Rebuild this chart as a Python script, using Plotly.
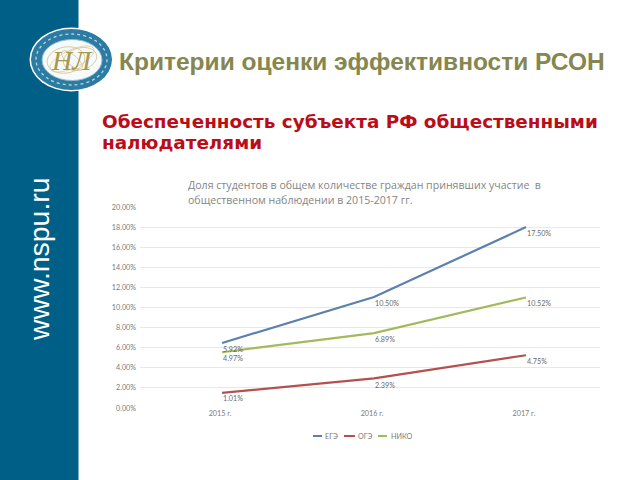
import math
import plotly.graph_objects as go

W, H = 640, 480
categories = ["2015 г.", "2016 г.", "2017 г."]
series_names = ["ЕГЭ", "ОГЭ", "НИКО"]
ege_values = [6.47, 11.04, 18.0]
oge_values = [1.5, 2.95, 5.25]
niko_values = [5.55, 7.45, 11.0]
ege_labels = ["5.92%", "10.50%", "17.50%"]
oge_labels = ["1.01%", "2.39%", "4.75%"]
niko_labels = ["4.97%", "6.89%", "10.52%"]
y_ticks = [0, 2, 4, 6, 8, 10, 12, 14, 16, 18, 20]
y_tick_labels = ["0.00%", "2.00%", "4.00%", "6.00%", "8.00%", "10.00%", "12.00%", "14.00%", "16.00%", "18.00%", "20.00%"]
colors = ["#5b80ad", "#b5504f", "#a3ba5c"]

def px(x): return x / W
def py(y): return 1 - y / H

fig = go.Figure()
for name, vals, color in zip(series_names, [ege_values, oge_values, niko_values], colors):
    fig.add_trace(go.Scatter(x=categories, y=vals, name=name, mode="lines",
                             line=dict(color=color, width=2.2), showlegend=False))

annotations = []
text_grey = "#7a7a7a"
for vals, labels, offs in [(ege_values, ege_labels, [0, 0, 0]),
                           (niko_values, niko_labels, [0, 0, 0]),
                           (oge_values, oge_labels, [-1, 1, 0])]:
    for cat, v, lab, off in zip(categories, vals, labels, offs):
        annotations.append(dict(x=cat, y=v, text=lab, xref="x", yref="y", showarrow=False,
                                xanchor="left", yanchor="top", xshift=-1, yshift=-off,
                                font=dict(family="Lato", size=7.2, color="#6a6a6a")))

def text(x, y, s, size, color, family="Liberation Sans", bold=False):
    annotations.append(dict(x=px(x), y=py(y), xref="paper", yref="paper", text=f"<b>{s}</b>" if bold else s,
                            showarrow=False, xanchor="left", yanchor="middle",
                            font=dict(family=family, size=size, color=color)))

text(117, 62, "Критерии оценки эффективности РСОН", 24.5, "#85874e", bold=True)
text(99.5, 121, "Обеспеченность субъекта РФ общественными", 18.4, "#bb0d18", family="DejaVu Sans", bold=True)
text(99.5, 143, "налюдателями", 18.4, "#bb0d18", family="DejaVu Sans", bold=True)
text(185.5, 185, "Доля студентов в общем количестве граждан принявших участие  в", 10.6, "#858585", family="Open Sans")
text(185.5, 200, "общественном наблюдении в 2015-2017 гг.", 10.6, "#858585", family="Open Sans")
annotations.append(dict(x=px(39), y=py(259), xref="paper", yref="paper", text="www.nspu.ru", showarrow=False,
                        xanchor="center", yanchor="middle", textangle=-90,
                        font=dict(family="Liberation Sans", size=28.4, color="#ffffff")))
annotations.append(dict(x=px(72), y=py(60), xref="paper", yref="paper", text="<i>НЛ</i>", showarrow=False,
                        xanchor="center", yanchor="middle",
                        font=dict(family="Liberation Serif", size=28, color="#a8974f")))

shapes = [dict(type="rect", xref="paper", yref="paper", x0=0, x1=px(78.5), y0=0, y1=1,
               fillcolor="#005f86", line_width=0, layer="below")]

def ellipse(cx, cy, rx, ry, fill=None, line=None, lw=1, dash="solid"):
    shapes.append(dict(type="circle", xref="paper", yref="paper", x0=px(cx - rx), x1=px(cx + rx),
                       y0=py(cy + ry), y1=py(cy - ry), fillcolor=fill or "rgba(0,0,0,0)",
                       line=dict(color=line or "rgba(0,0,0,0)", width=lw, dash=dash), layer="below"))

def swirl(cx, cy, rx, ry, deg, color, lw=0.8):
    a = math.radians(deg)
    pts = []
    for i in range(49):
        t = 2 * math.pi * i / 48
        x, y = rx * math.cos(t), ry * math.sin(t)
        pts.append((cx + x * math.cos(a) - y * math.sin(a), cy + x * math.sin(a) + y * math.cos(a)))
    d = "M" + " L".join(f"{px(x):.5f},{py(y):.5f}" for x, y in pts)
    shapes.append(dict(type="path", xref="paper", yref="paper", path=d, line=dict(color=color, width=lw), layer="below"))

ellipse(71.5, 59.5, 42, 32, "#ffffff")
ellipse(71.5, 59.5, 40.5, 30.5, "#2b7ba3")
ellipse(71.5, 59.5, 35.5, 25.5, None, "#b9d6e3", 1.3, "dot")
ellipse(72, 60, 30, 20.5, "#f7fafa", "#8fbcd1", 1)
swirl(66, 60, 19, 13, -10, "#cdbf85")
swirl(80, 59, 17, 11, -15, "#cdbf85")
swirl(72, 59, 24, 9, -25, "#d8cc9c")
swirl(72, 60, 13, 5, 40, "#cdbf85")

legend_items = [(313, 322, 323, series_names[0], colors[0]),
                (344, 355, 356, series_names[1], colors[1]),
                (378, 387, 389, series_names[2], colors[2])]
for x0, x1, tx, name, color in legend_items:
    shapes.append(dict(type="line", xref="paper", yref="paper", x0=px(x0), x1=px(x1), y0=py(436), y1=py(436),
                       line=dict(color=color, width=2)))
    text(tx, 436, name, 7.2, text_grey, family="Lato")

fig.update_layout(
    width=W, height=H, margin=dict(l=0, r=0, t=0, b=0), showlegend=False,
    paper_bgcolor="#ffffff", plot_bgcolor="#ffffff", annotations=annotations, shapes=shapes,
    xaxis=dict(domain=[px(140), px(600)], type="category", range=[-0.54, 2.487], showgrid=False, zeroline=False,
               showline=False, ticks="", automargin=False, ticklabelshift=-2,
               tickfont=dict(family="Lato", size=7.2, color=text_grey)),
    yaxis=dict(domain=[py(408), py(207)], range=[0, 20], tickvals=y_ticks, ticktext=y_tick_labels,
               gridcolor="#e8e8e8", gridwidth=1, zeroline=False, showline=False, ticks="", automargin=False,
               ticklabelstandoff=3,
               tickfont=dict(family="Lato", size=7.2, color=text_grey)),
)
fig.write_html("out.html", config={"displayModeBar": False}, post_script="document.body.style.margin='0';")
